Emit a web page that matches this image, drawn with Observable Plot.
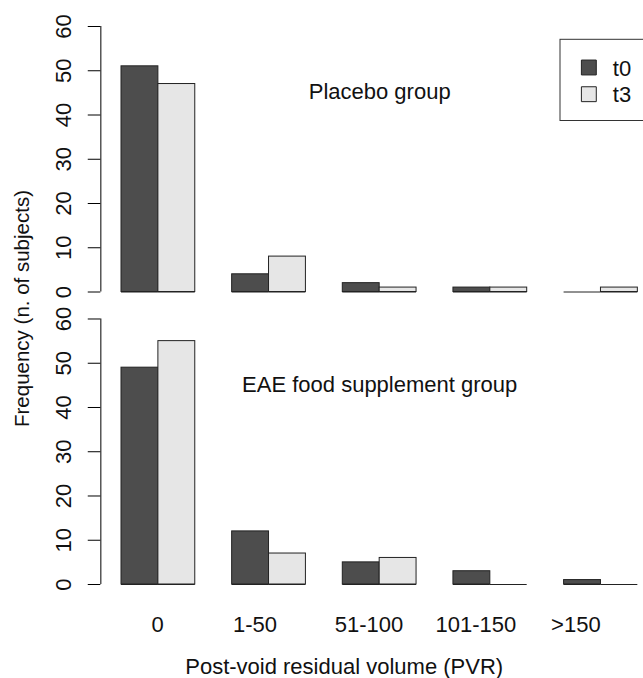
<!DOCTYPE html>
<html>
<head>
<meta charset="utf-8">
<script src="https://cdn.jsdelivr.net/npm/d3@7"></script>
<script src="https://cdn.jsdelivr.net/npm/@observablehq/plot@0.6"></script>
<style>
  html, body { margin: 0; padding: 0; background: #fff; }
  #chart svg { display: block; }
</style>
</head>
<body>
<div id="chart"></div>
<script>
// ---- data ----
const categories = ["0", "1-50", "51-100", "101-150", ">150"];
const groups = ["Placebo group", "EAE food supplement group"];
const seriesNames = ["t0", "t3"];
const placeboT0 = [51, 4, 2, 1, 0];
const placeboT3 = [47, 8, 1, 1, 1];
const eaeT0 = [49, 12, 5, 3, 1];
const eaeT3 = [55, 7, 6, 0, 0];
const yTicks = [0, 10, 20, 30, 40, 50, 60];
// category label positions on the x axis (barplot units)
const xLabelAt = [1.98, 4.62, 7.71, 10.61, 13.32];
const seriesColors = ["#4d4d4d", "#e6e6e6"];
const xTitle = "Post-void residual volume (PVR)";
const yTitle = "Frequency (n. of subjects)";

const valuesByGroup = {
  "Placebo group": [placeboT0, placeboT3],
  "EAE food supplement group": [eaeT0, eaeT3]
};

// R barplot(beside = TRUE) layout: space = c(0, 1)
const xDomain = [0.44, 15.56];
const table = [];
groups.forEach(g => {
  valuesByGroup[g].forEach((vals, s) => {
    vals.forEach((v, i) => {
      const x1 = 1 + 3 * i + s;
      table.push({group: g, category: categories[i], series: seriesNames[s], value: v, x1, x2: x1 + 1});
    });
  });
});
const color = d3.scaleOrdinal(seriesNames, seriesColors);
const topGroup = groups[0];
const bottomGroup = groups[1];
const FS = 22;
const stroke = "#222";

const legendMarks = seriesNames.flatMap((s, i) => [
  Plot.dot([s], {
    fy: () => topGroup, frameAnchor: "top-left",
    dx: 488, dy: 41 + i * 26.7,
    symbol: "square", r: 8.4, fill: color(s), stroke: stroke, strokeWidth: 1
  }),
  Plot.text([s], {
    fy: () => topGroup, frameAnchor: "top-left",
    dx: 512, dy: 42 + i * 26.7, text: d => d,
    textAnchor: "start", lineAnchor: "middle", fontSize: FS, fill: "#111"
  })
]);

const chart = Plot.plot({
  width: 643,
  height: 678,
  marginLeft: 100.35,
  marginRight: -15,
  marginTop: 26,
  marginBottom: 94,
  style: {fontFamily: "'Liberation Sans', Arial, Helvetica, sans-serif", background: "#fff", color: "#111"},
  x: {type: "linear", domain: xDomain},
  y: {domain: [0, 60]},
  fy: {domain: groups, axis: null, paddingInner: 0.0923, paddingOuter: 0, round: false},
  marks: [
    Plot.rect(table, {
      fy: "group", x1: "x1", x2: "x2", y1: 0, y2: "value",
      fill: d => color(d.series), stroke: stroke, strokeWidth: 1
    }),
    Plot.ruleY(table, {fy: "group", x1: "x1", x2: "x2", y: 0, stroke: stroke, strokeWidth: 1}),
    Plot.ruleX(groups, {fy: d => d, x: () => xDomain[0], y1: yTicks[0], y2: yTicks[yTicks.length - 1], stroke: "#000", strokeWidth: 1}),
    Plot.axisY({
      ticks: yTicks, tickSize: 12.6, tickPadding: 17.7, tickRotate: -90,
      label: null, fontSize: FS, stroke: "#000", color: "#111"
    }),
    Plot.axisX({
      ticks: xLabelAt, tickFormat: (v, i) => categories[xLabelAt.indexOf(v)],
      tickSize: 0, tickPadding: 32, label: null, fontSize: FS, color: "#111"
    }),
    Plot.text(groups, {
      fy: d => d, frameAnchor: "top", dy: 65.5, text: d => d,
      lineAnchor: "middle", fontSize: FS, fill: "#111"
    }),
    Plot.rect([topGroup], {
      fy: d => d, insetLeft: 459.65, insetTop: 13.3, insetBottom: 171, insetRight: -5,
      fill: "none", stroke: "#333", strokeWidth: 1
    }),
    ...legendMarks,
    Plot.text([yTitle], {
      fy: () => topGroup, frameAnchor: "top-left", dx: -78.5, dy: 282,
      rotate: -90, text: d => d, textAnchor: "middle", lineAnchor: "middle", fontSize: 20.5, fill: "#111"
    }),
    Plot.text([xTitle], {
      fy: () => bottomGroup, frameAnchor: "bottom", dx: -35.5, dy: 82.7,
      text: d => d, textAnchor: "middle", lineAnchor: "middle", fontSize: FS, fill: "#111"
    })
  ]
});
document.getElementById("chart").appendChild(chart);
</script>
</body>
</html>
